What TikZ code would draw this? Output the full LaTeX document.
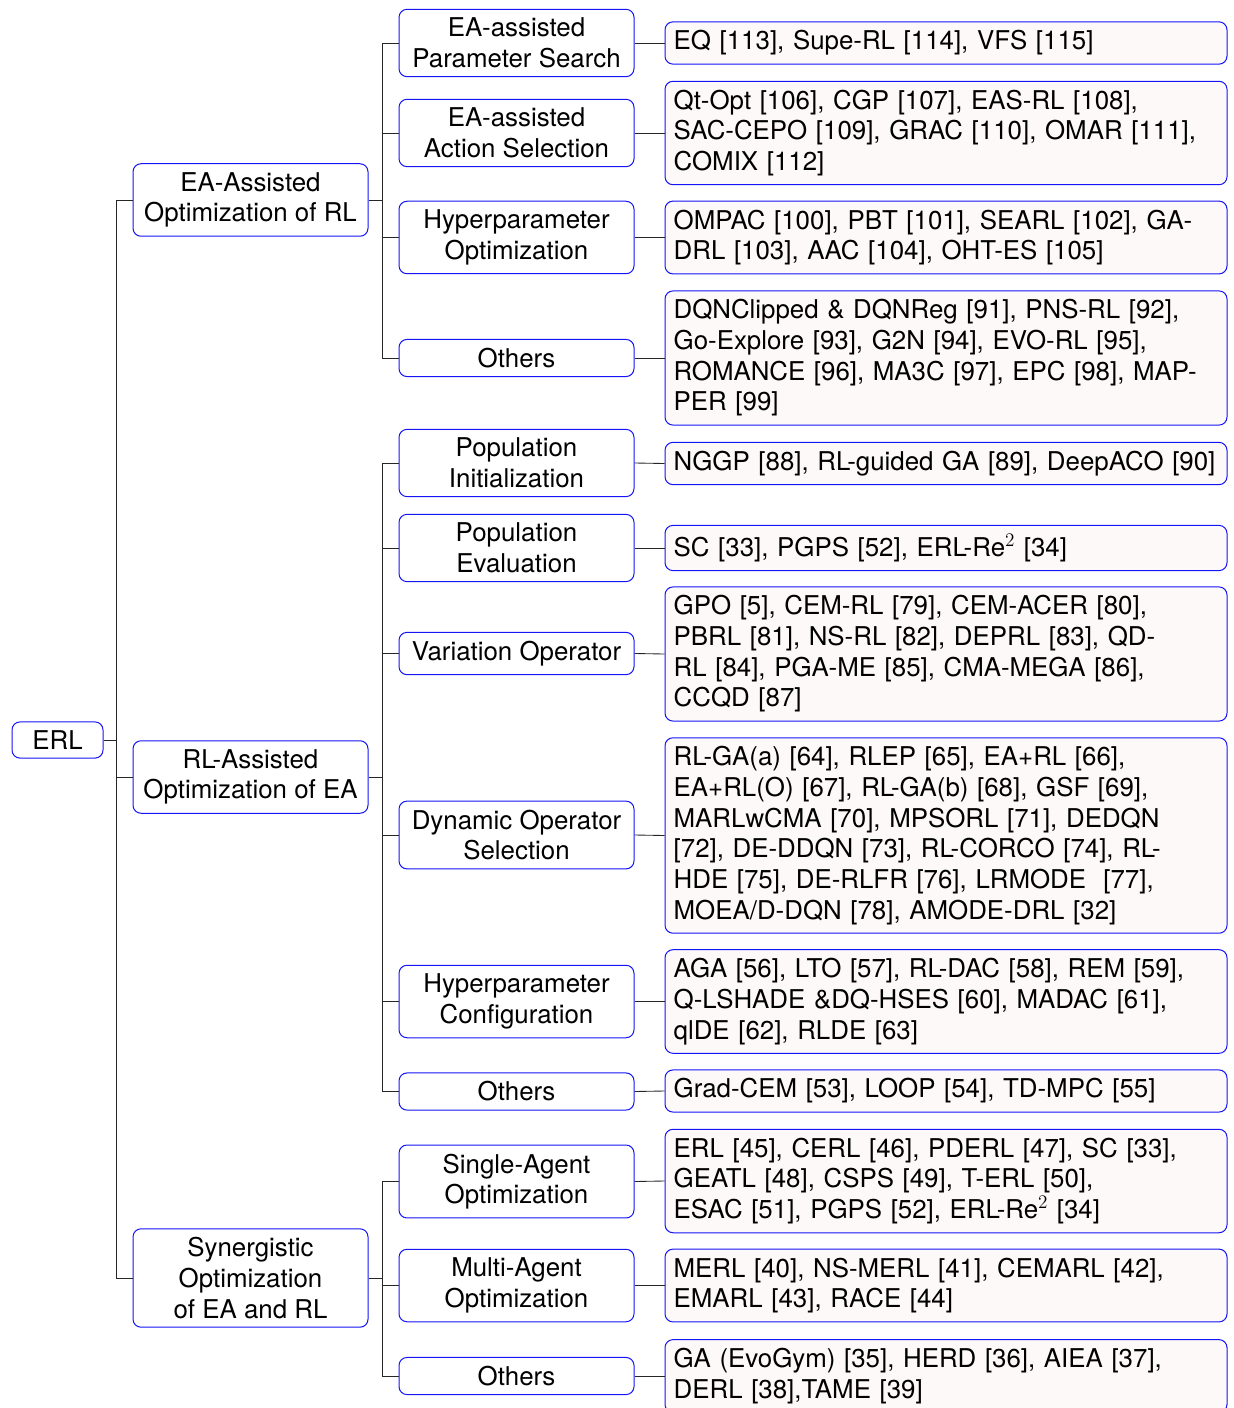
\documentclass[tikz,border=0pt]{standalone}
\usepackage{fontspec}
\setmainfont{TeX Gyre Heros}
\definecolor{leaffill}{RGB}{253,249,249}
\definecolor{boxblue}{RGB}{20,20,245}
\begin{document}
\begin{tikzpicture}[x=0.75pt,y=-0.75pt,
  font=\fontsize{19.4}{23}\selectfont,
  basebox/.style={draw=boxblue, line width=0.75pt, rounded corners=6pt, inner ysep=6.5pt, inner xsep=6pt},
  rootbox/.style={basebox, minimum width=68.25pt, align=center},
  catbox/.style={basebox, minimum width=176.25pt, align=center},
  subbox/.style={basebox, minimum width=176.25pt, align=center},
  leafbox/.style={basebox, fill=leaffill, minimum width=421.5pt, text width=408.5pt, inner xsep=6.5pt, align=left},
  link/.style={draw=black!85, line width=0.65pt}
]
\useasboundingbox (0,0) rectangle (1233,1408);

% root
\node[rootbox] (erl) at (57.5,740) {ERL};

% level 1
\node[catbox] (ca) at (250.5,200) {EA-Assisted\\Optimization of RL};
\node[catbox] (cb) at (250.5,777) {RL-Assisted\\Optimization of EA};
\node[catbox] (cc) at (250.5,1278) {Synergistic\\Optimization\\of EA and RL};

% level 2, group A
\node[subbox] (a1) at (516.5,43) {EA-assisted\\Parameter Search};
\node[subbox] (a2) at (516.5,133) {EA-assisted\\Action Selection};
\node[subbox] (a3) at (516.5,237.5) {Hyperparameter\\Optimization};
\node[subbox] (a4) at (516.5,358) {Others};
% group B
\node[subbox] (b1) at (516.5,463) {Population\\Initialization};
\node[subbox] (b2) at (516.5,548) {Population\\Evaluation};
\node[subbox] (b3) at (516.5,653.5) {Variation Operator};
\node[subbox] (b4) at (516.5,835) {Dynamic Operator\\Selection};
\node[subbox] (b5) at (516.5,1001.5) {Hyperparameter\\Configuration};
\node[subbox] (b6) at (516.5,1091.5) {Others};
% group C
\node[subbox] (s1) at (516.5,1181.5) {Single-Agent\\Optimization};
\node[subbox] (s2) at (516.5,1285.5) {Multi-Agent\\Optimization};
\node[subbox] (s3) at (516.5,1376) {Others};

% leaves
\node[leafbox] (la1) at (946,43) {EQ [113], Supe-RL [114], VFS [115]};
\node[leafbox] (la2) at (946,133) {Qt-Opt [106], CGP [107], EAS-RL [108],\\SAC-CEPO [109], GRAC [110], OMAR [111],\\COMIX [112]};
\node[leafbox] (la3) at (946,237.5) {OMPAC [100], PBT [101], SEARL [102], GA-\\DRL [103], AAC [104], OHT-ES [105]};
\node[leafbox] (la4) at (946,358) {DQNClipped \& DQNReg [91], PNS-RL [92],\\Go-Explore [93], G2N [94], EVO-RL [95],\\ROMANCE [96], MA3C [97], EPC [98], MAP-\\PER [99]};
\node[leafbox] (lb1) at (946,463.5) {NGGP [88], RL-guided GA [89], DeepACO [90]};
\node[leafbox] (lb2) at (946,548) {SC [33], PGPS [52], ERL-Re$^2$ [34]};
\node[leafbox] (lb3) at (946,654) {GPO [5], CEM-RL [79], CEM-ACER [80],\\PBRL [81], NS-RL [82], DEPRL [83], QD-\\RL [84], PGA-ME [85], CMA-MEGA [86],\\CCQD [87]};
\node[leafbox] (lb4) at (946,835.5) {RL-GA(a) [64], RLEP [65], EA+RL [66],\\EA+RL(O) [67], RL-GA(b) [68], GSF [69],\\MARLwCMA [70], MPSORL [71], DEDQN\\{}[72], DE-DDQN [73], RL-CORCO [74], RL-\\HDE [75], DE-RLFR [76], LRMODE\ \ [77],\\MOEA/D-DQN [78], AMODE-DRL [32]};
\node[leafbox] (lb5) at (946,1001.5) {AGA [56], LTO [57], RL-DAC [58], REM [59],\\Q-LSHADE \&DQ-HSES [60], MADAC [61],\\qlDE [62], RLDE [63]};
\node[leafbox] (lb6) at (946,1091) {Grad-CEM [53], LOOP [54], TD-MPC [55]};
\node[leafbox] (ls1) at (946,1181) {ERL [45], CERL [46], PDERL [47], SC [33],\\GEATL [48], CSPS [49], T-ERL [50],\\ESAC [51], PGPS [52], ERL-Re$^2$ [34]};
\node[leafbox] (ls2) at (946,1285.5) {MERL [40], NS-MERL [41], CEMARL [42],\\EMARL [43], RACE [44]};
\node[leafbox] (ls3) at (946,1376) {GA (EvoGym) [35], HERD [36], AIEA [37],\\DERL [38],TAME [39]};

% trunks
\coordinate (t0) at (116,740);
\coordinate (ta) at (382,200);
\coordinate (tb) at (382,777);
\coordinate (tc) at (382,1278);

\draw[link] (erl.east) -- (t0);
\draw[link] (t0) |- (ca.west);
\draw[link] (t0) |- (cb.west);
\draw[link] (t0) |- (cc.west);

\draw[link] (ca.east) -- (ta);
\foreach \c in {a1,a2,a3,a4} \draw[link] (ta) |- (\c.west);
\draw[link] (cb.east) -- (tb);
\foreach \c in {b1,b2,b3,b4,b5,b6} \draw[link] (tb) |- (\c.west);
\draw[link] (cc.east) -- (tc);
\foreach \c in {s1,s2,s3} \draw[link] (tc) |- (\c.west);

% sub to leaf
\foreach \p/\q in {a1/la1,a2/la2,a3/la3,a4/la4,b1/lb1,b2/lb2,b3/lb3,b4/lb4,b5/lb5,b6/lb6,s1/ls1,s2/ls2,s3/ls3}
  \draw[link] (\p.east) -- (\q.west);
\end{tikzpicture}
\end{document}
